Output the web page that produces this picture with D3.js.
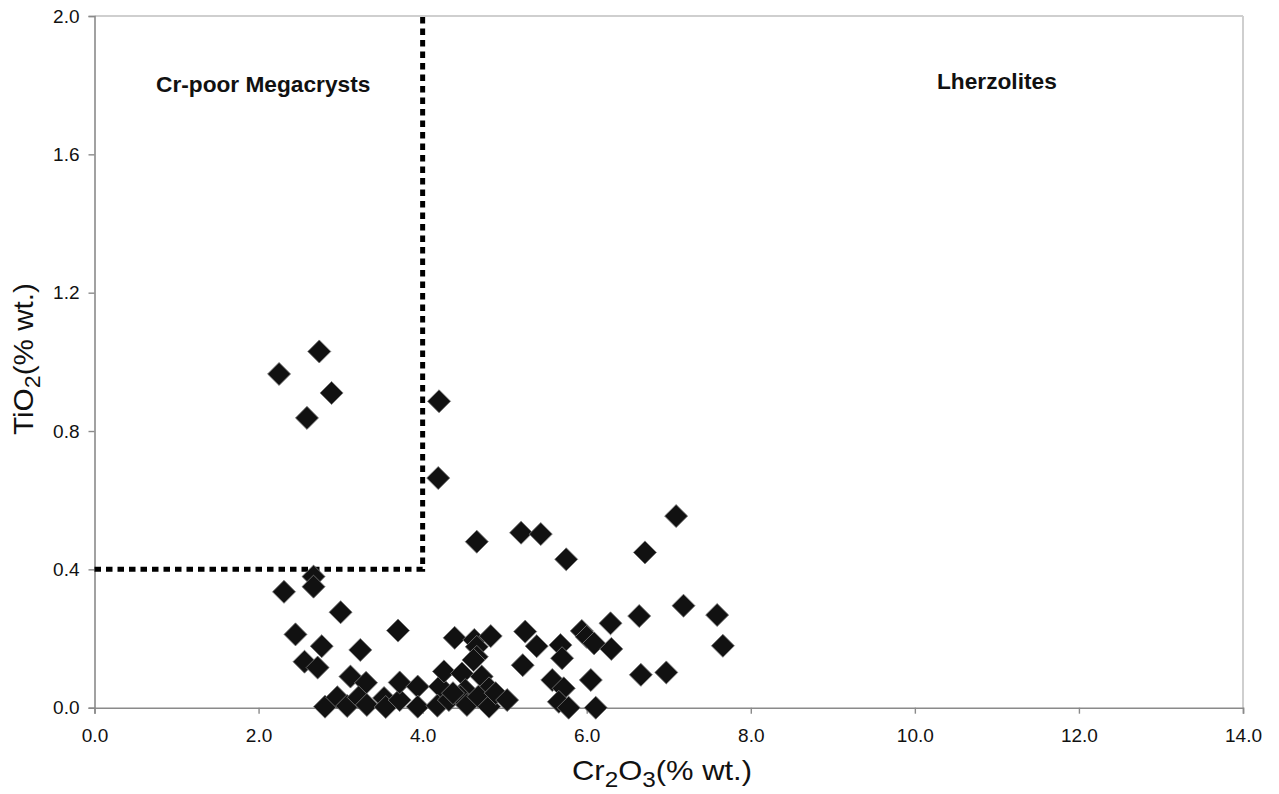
<!DOCTYPE html>
<html>
<head>
<meta charset="utf-8">
<script src="https://cdn.jsdelivr.net/npm/d3@7"></script>
<style>
  html, body { margin: 0; padding: 0; background: #fff; }
  svg { display: block; }
  text { font-family: "Liberation Sans", Arial, sans-serif; fill: #111; }
</style>
</head>
<body>
<svg id="chart" width="1279" height="794"></svg>
<script>
// Garnet compositions: Cr2O3 vs TiO2 (% wt.)
const cr2o3 = [
  2.25, 2.74, 2.59, 2.89, 4.20, 4.19,
  4.66, 5.20, 5.44, 5.75, 7.09, 6.71,
  2.67, 2.67, 2.31, 3.00, 2.45, 2.77, 2.56, 2.72, 3.24, 3.70, 3.12, 3.31,
  2.81, 2.96, 3.08, 3.22, 3.32, 3.53, 3.55, 3.72, 3.72, 3.94, 3.94,
  4.21, 4.18, 4.26, 4.39,
  4.63, 4.83, 4.66, 4.66, 4.62, 4.48, 4.72, 4.52, 4.81, 4.32, 4.46, 4.54, 4.68, 4.81, 4.89, 5.03, 4.37,
  5.25, 5.39, 5.68, 5.94, 6.00, 6.09, 6.30, 6.29,
  5.70, 5.22, 5.58, 5.72, 6.05, 5.66, 5.78, 6.11,
  6.64, 7.18, 7.59, 7.66, 6.66, 6.97
];
const tio2 = [
  0.965, 1.030, 0.838, 0.910, 0.886, 0.664,
  0.480, 0.506, 0.502, 0.429, 0.554, 0.449,
  0.379, 0.350, 0.335, 0.276, 0.212, 0.178, 0.133, 0.116, 0.167, 0.223, 0.090, 0.072,
  0.003, 0.030, 0.005, 0.030, 0.008, 0.028, 0.002, 0.022, 0.073, 0.061, 0.003,
  0.061, 0.006, 0.105, 0.202,
  0.196, 0.207, 0.176, 0.147, 0.138, 0.099, 0.090, 0.051, 0.056, 0.022, 0.032, 0.008, 0.032, 0.003, 0.042, 0.022, 0.042,
  0.220, 0.178, 0.181, 0.222, 0.205, 0.186, 0.170, 0.244,
  0.143, 0.123, 0.080, 0.056, 0.080, 0.017, 0.000, 0.000,
  0.265, 0.295, 0.268, 0.179, 0.095, 0.102
];

// Field boundary (Cr-poor megacryst field: Cr2O3 < 4.0, TiO2 > 0.4)
const boundaryCr = 4.0;
const boundaryTi = 0.4;

const xTicks = [0, 2, 4, 6, 8, 10, 12, 14];
const yTicks = [0, 0.4, 0.8, 1.2, 1.6, 2.0];
const fieldLabels = ["Cr-poor Megacrysts", "Lherzolites"];

const svg = d3.select("#chart");
const plotLeft = 94.5, plotRight = 1243, plotTop = 16, plotBottom = 707.7;

const x = d3.scaleLinear().domain([0, 14]).range([plotLeft, plotRight]);
const y = d3.scaleLinear().domain([0, 2]).range([plotBottom, plotTop]);

// plot frame: light top/right edges
svg.append("line").attr("x1", plotLeft).attr("x2", plotRight).attr("y1", plotTop).attr("y2", plotTop)
  .attr("stroke", "#cfcfcf").attr("stroke-width", 2);
svg.append("line").attr("x1", plotRight).attr("x2", plotRight).attr("y1", plotTop).attr("y2", plotBottom)
  .attr("stroke", "#cfcfcf").attr("stroke-width", 2);

// axes
const fmt = d3.format(".1f");
const xAxis = svg.append("g").attr("transform", `translate(0,${plotBottom})`)
  .call(d3.axisBottom(x).tickValues(xTicks).tickFormat(fmt).tickSize(6).tickPadding(15));
const yAxis = svg.append("g").attr("transform", `translate(${plotLeft},0)`)
  .call(d3.axisLeft(y).tickValues(yTicks).tickFormat(fmt).tickSize(6).tickPadding(9));
[xAxis, yAxis].forEach(g => {
  g.select(".domain").attr("stroke", "#8a8a8a").attr("stroke-width", 1.6);
  g.selectAll(".tick line").attr("stroke", "#8a8a8a").attr("stroke-width", 1.4);
  g.selectAll(".tick text").attr("fill", "#111")
    .style("font-family", '"Liberation Sans", Arial, sans-serif').style("font-size", "19px");
});

// dashed field boundary
const boundary = [
  [0, boundaryTi], [boundaryCr, boundaryTi], [boundaryCr, 2.0]
];
svg.append("path")
  .attr("d", d3.line().x(d => x(d[0])).y(d => y(d[1]))(boundary))
  .attr("fill", "none").attr("stroke", "#000").attr("stroke-width", 5)
  .attr("stroke-dasharray", "6.5 5");

// data points as diamonds
const pts = cr2o3.map((c, i) => ({ c, t: tio2[i] }));
const diamond = d3.symbol().type(d3.symbolSquare).size(265);
svg.append("g").selectAll("path").data(pts).join("path")
  .attr("d", diamond)
  .attr("transform", d => `translate(${x(d.c)},${y(d.t)}) rotate(45)`)
  .attr("fill", "#111").attr("stroke", "#777").attr("stroke-width", 0.8);

// field labels
svg.append("text").attr("x", 156).attr("y", 92).style("font-weight", "bold").style("font-size", "22.7px")
  .text(fieldLabels[0]);
svg.append("text").attr("x", 937).attr("y", 89).style("font-weight", "bold").style("font-size", "22.7px")
  .text(fieldLabels[1]);

// axis titles
const xt = svg.append("text").attr("x", 572).attr("y", 780)
  .attr("textLength", 180).attr("lengthAdjust", "spacingAndGlyphs")
  .style("font-size", "28px");
xt.append("tspan").text("Cr");
xt.append("tspan").attr("dy", 7).style("font-size", "22px").text("2");
xt.append("tspan").attr("dy", -7).text("O");
xt.append("tspan").attr("dy", 7).style("font-size", "22px").text("3");
xt.append("tspan").attr("dy", -7).text("(% wt.)");

const yt = svg.append("text").attr("transform", "translate(33,435) rotate(-90)")
  .attr("textLength", 152).attr("lengthAdjust", "spacingAndGlyphs")
  .style("font-size", "28px");
yt.append("tspan").text("TiO");
yt.append("tspan").attr("dy", 7).style("font-size", "22px").text("2");
yt.append("tspan").attr("dy", -7).text("(% wt.)");
</script>
</body>
</html>
